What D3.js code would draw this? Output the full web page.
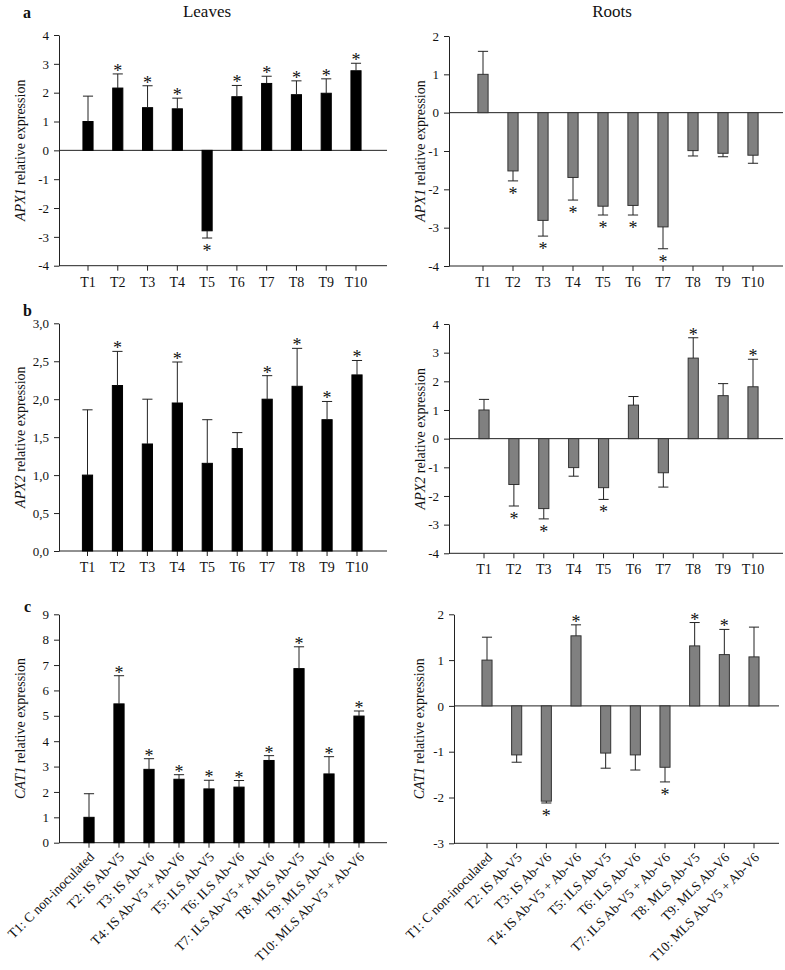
<!DOCTYPE html>
<html><head><meta charset="utf-8">
<script src="https://cdn.jsdelivr.net/npm/d3@7"></script>
<style>
body{margin:0;background:#fff;}
svg{display:block;}
text{font-family:"Liberation Serif","Times New Roman",serif;fill:#111;}
</style></head>
<body><svg id="chart" width="785" height="970"></svg>
<script>
const categories = ["T1","T2","T3","T4","T5","T6","T7","T8","T9","T10"];
const categoryLabels = ["T1: C non-inoculated","T2: IS Ab-V5","T3: IS Ab-V6","T4: IS Ab-V5 + Ab-V6","T5: ILS Ab-V5","T6: ILS Ab-V6","T7: ILS Ab-V5 + Ab-V6","T8: MLS Ab-V5","T9: MLS Ab-V6","T10: MLS Ab-V5 + Ab-V6"];

const apx1Leaves = [1.0,2.16,1.48,1.44,-2.79,1.86,2.32,1.93,1.98,2.76];
const apx1LeavesErr = [0.88,0.49,0.76,0.37,0.25,0.39,0.25,0.48,0.50,0.26];
const apx1LeavesSig = [0,1,1,1,1,1,1,1,1,1];

const apx1Roots = [1.0,-1.52,-2.81,-1.69,-2.44,-2.42,-2.98,-0.99,-1.06,-1.11];
const apx1RootsErr = [0.6,0.26,0.41,0.59,0.23,0.25,0.57,0.14,0.09,0.21];
const apx1RootsSig = [0,1,1,1,1,1,1,0,0,0];

const apx2Leaves = [1.0,2.18,1.41,1.95,1.155,1.35,2.0,2.17,1.73,2.32];
const apx2LeavesErr = [0.86,0.45,0.59,0.54,0.575,0.21,0.31,0.50,0.24,0.19];
const apx2LeavesSig = [0,1,0,1,0,0,1,1,1,1];

const apx2Roots = [1.0,-1.60,-2.44,-1.01,-1.71,1.17,-1.19,2.81,1.50,1.81];
const apx2RootsErr = [0.37,0.75,0.36,0.30,0.41,0.30,0.50,0.71,0.42,0.96];
const apx2RootsSig = [0,1,1,0,1,0,0,1,0,1];

const cat1Leaves = [1.0,5.47,2.89,2.50,2.12,2.19,3.24,6.86,2.71,4.99];
const cat1LeavesErr = [0.93,1.11,0.42,0.18,0.34,0.26,0.19,0.86,0.68,0.20];
const cat1LeavesSig = [0,1,1,1,1,1,1,1,1,1];

const cat1Roots = [1.0,-1.07,-2.08,1.53,-1.03,-1.07,-1.34,1.31,1.12,1.07];
const cat1RootsErr = [0.5,0.16,0.04,0.24,0.33,0.33,0.32,0.51,0.55,0.65];
const cat1RootsSig = [0,0,1,1,0,0,1,1,1,0];

const ticksA1L = [-4,-3,-2,-1,0,1,2,3,4];
const ticksA1R = [-4,-3,-2,-1,0,1,2];
const ticksA2L = [0,0.5,1,1.5,2,2.5,3];
const ticksA2LLabels = ["0,0","0,5","1,0","1,5","2,0","2,5","3,0"];
const ticksA2R = [-4,-3,-2,-1,0,1,2,3,4];
const ticksC1L = [0,1,2,3,4,5,6,7,8,9];
const ticksC1R = [-3,-2,-1,0,1,2];

const FONT = "Liberation Serif";
const svg = d3.select("#chart");

const panels = [
  {vals:apx1Leaves, err:apx1LeavesErr, sig:apx1LeavesSig, ticks:ticksA1L, labels:null, dom:[-4,4], gene:"APX1",
   x0:59, x1:387, yTop:35, yBot:265.7, c1:88, c10:356, fill:"#000", stroke:"#000", ylx:25, rot:false},
  {vals:apx1Roots, err:apx1RootsErr, sig:apx1RootsSig, ticks:ticksA1R, labels:null, dom:[-4,2], gene:"APX1",
   x0:449, x1:783, yTop:36, yBot:266, c1:483, c10:753, fill:"#808080", stroke:"#333", ylx:425, rot:false},
  {vals:apx2Leaves, err:apx2LeavesErr, sig:apx2LeavesSig, ticks:ticksA2L, labels:ticksA2LLabels, dom:[0,3], gene:"APX2",
   x0:59, x1:387, yTop:323.3, yBot:551, c1:87.5, c10:357, fill:"#000", stroke:"#000", ylx:25, rot:false},
  {vals:apx2Roots, err:apx2RootsErr, sig:apx2RootsSig, ticks:ticksA2R, labels:null, dom:[-4,4], gene:"APX2",
   x0:449, x1:783, yTop:324, yBot:553.3, c1:484, c10:753, fill:"#808080", stroke:"#333", ylx:425, rot:false},
  {vals:cat1Leaves, err:cat1LeavesErr, sig:cat1LeavesSig, ticks:ticksC1L, labels:null, dom:[0,9], gene:"CAT1",
   x0:59, x1:387, yTop:614.3, yBot:842.7, c1:89, c10:359, fill:"#000", stroke:"#000", ylx:25, rot:true},
  {vals:cat1Roots, err:cat1RootsErr, sig:cat1RootsSig, ticks:ticksC1R, labels:null, dom:[-3,2], gene:"CAT1",
   x0:454, x1:779, yTop:614.3, yBot:843.3, c1:487, c10:754, fill:"#808080", stroke:"#333", ylx:424, rot:true}
];

panels.forEach(p => {
  const g = svg.append("g");
  const step = (p.c10 - p.c1) / 9;
  const x = d3.scaleBand().domain(categories)
    .range([p.c1 - step/2, p.c10 + step/2]).paddingInner(0.66).paddingOuter(0.33);
  const y = d3.scaleLinear().domain(p.dom).range([p.yBot, p.yTop]);
  const bw = x.bandwidth();

  // y axis
  const yAxis = d3.axisLeft(y).tickValues(p.ticks).tickSize(5).tickSizeOuter(0).tickPadding(5)
    .tickFormat((d,i) => p.labels ? p.labels[i] : String(d));
  const ya = g.append("g").attr("transform", `translate(${p.x0},0)`).call(yAxis)
    .attr("font-family", FONT);
  ya.select(".domain").attr("stroke","#222");
  ya.selectAll(".tick line").attr("stroke","#222");
  ya.selectAll("text").attr("font-size", 13).attr("fill","#111");

  // x axis at bottom
  const xAxis = d3.axisBottom(x).tickSize(5).tickSizeOuter(0).tickPadding(6)
    .tickFormat((d,i) => p.rot ? categoryLabels[i] : d);
  const xa = g.append("g").attr("transform", `translate(0,${p.yBot})`).call(xAxis)
    .attr("font-family", FONT);
  xa.select(".domain").remove();
  xa.selectAll(".tick line").attr("stroke","#222");
  xa.selectAll("text").attr("font-size", 14).attr("fill","#111");
  if (p.rot) {
    xa.selectAll("text").attr("text-anchor","end").attr("dy", 0)
      .attr("transform","translate(6,15) rotate(-45)").attr("y",0).attr("x",0)
      .attr("font-size", 13.5);
  }
  g.append("line").attr("x1", p.x0).attr("x2", p.x1).attr("y1", p.yBot).attr("y2", p.yBot)
    .attr("stroke","#222");
  // zero line
  if (p.dom[0] < 0) {
    g.append("line").attr("x1", p.x0).attr("x2", p.x1).attr("y1", y(0)).attr("y2", y(0))
      .attr("stroke","#222");
  }

  // bars
  g.selectAll("rect.bar").data(p.vals).join("rect").attr("class","bar")
    .attr("x", (d,i) => x(categories[i]))
    .attr("width", bw)
    .attr("y", d => y(Math.max(0,d)))
    .attr("height", d => Math.abs(y(d) - y(0)))
    .attr("fill", p.fill).attr("stroke", p.stroke).attr("stroke-width", 1);

  // error bars
  const eg = g.append("g").attr("stroke","#222").attr("stroke-width",1);
  p.vals.forEach((d,i) => {
    const cx = x(categories[i]) + bw/2;
    const end = d >= 0 ? d + p.err[i] : d - p.err[i];
    eg.append("line").attr("x1",cx).attr("x2",cx).attr("y1",y(d)).attr("y2",y(end));
    eg.append("line").attr("x1",cx - bw/2).attr("x2",cx + bw/2).attr("y1",y(end)).attr("y2",y(end));
    if (p.sig[i]) {
      g.append("text").attr("x",cx).attr("y", d >= 0 ? y(end) + 3 : y(end) + 19)
        .attr("text-anchor","middle").attr("font-size",18).text("*");
    }
  });

  // y label
  const yl = g.append("text")
    .attr("transform", `translate(${p.ylx},${(p.yTop + p.yBot)/2}) rotate(-90)`)
    .attr("text-anchor","middle").attr("font-size",14);
  yl.append("tspan").attr("font-style","italic").text(p.gene);
  yl.append("tspan").text(" relative expression");
});

// titles and panel letters
svg.append("text").attr("x",207).attr("y",17).attr("text-anchor","middle").attr("font-size",17).text("Leaves");
svg.append("text").attr("x",612).attr("y",17).attr("text-anchor","middle").attr("font-size",17).text("Roots");
svg.append("text").attr("x",23).attr("y",18).attr("font-size",16).attr("font-weight","bold").text("a");
svg.append("text").attr("x",23).attr("y",316).attr("font-size",16).attr("font-weight","bold").text("b");
svg.append("text").attr("x",24).attr("y",612).attr("font-size",16).attr("font-weight","bold").text("c");
</script>
</body></html>
